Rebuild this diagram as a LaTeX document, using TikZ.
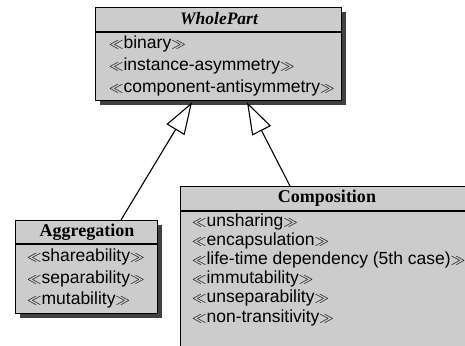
\documentclass[tikz,border=0pt]{standalone}
\usepackage{fontspec}
\setmainfont{Liberation Serif}
\setsansfont{Liberation Sans}
\usetikzlibrary{arrows.meta,shadows,calc}
\definecolor{boxgray}{RGB}{204,204,204}
\definecolor{shadowgray}{RGB}{64,64,64}
\newcommand{\stl}{{\fontsize{15}{15}\selectfont$\ll$}}
\newcommand{\str}{{\fontsize{15}{15}\selectfont$\gg$}}
\tikzset{
  classbox/.style={draw=black, line width=1.3pt, fill=boxgray, rectangle, inner sep=0pt, anchor=north west,
    drop shadow={shadow xshift=4pt, shadow yshift=-4pt, fill=shadowgray, opacity=1}},
  sepline/.style={line width=2pt, black},
  rowtext/.style={anchor=base west, inner sep=0pt, font=\sffamily\fontsize{17.5}{20}\selectfont},
  titletext/.style={anchor=base, inner sep=0pt, font=\rmfamily\bfseries\fontsize{18}{20}\selectfont},
  inherit/.style={line width=1.1pt, -{Triangle[length=32pt, width=21pt, fill=white, line width=1.1pt]}}
}
\begin{document}
\begin{tikzpicture}[x=1pt, y=-1pt]
\useasboundingbox (0,0) rectangle (465,345);
\clip (0,0) rectangle (465,345);
% WholePart
\node[classbox, minimum width=246pt, minimum height=93pt] (wp) at (95,7) {};
\draw[sepline] (95,32) -- (341,32);
\node[titletext, font=\rmfamily\bfseries\itshape\fontsize{17.5}{20}\selectfont] (wpt) at (219,25) {WholePart};
\node[rowtext] (wp1) at (109,48.5) {\stl binary\str};
\node[rowtext] (wp2) at (109,70.5) {\stl instance-asymmetry\str};
\node[rowtext] (wp3) at (109,92.5) {\stl component-antisymmetry\str};
% Aggregation
\node[classbox, minimum width=142pt, minimum height=93pt] (agg) at (15,220) {};
\draw[sepline] (15,244) -- (157,244);
\node[titletext] (aggt) at (87,236.5) {Aggregation};
\node[rowtext] (ag1) at (27,261) {\stl shareability\str};
\node[rowtext] (ag2) at (27,283) {\stl separability\str};
\node[rowtext] (ag3) at (27,304) {\stl mutability\str};
% Composition
\node[classbox, minimum width=300pt, minimum height=180pt] (comp) at (180,186) {};
\draw[sepline] (180,211) -- (480,211);
\node[titletext] (compt) at (327,202) {Composition};
\node[rowtext] (c1) at (192,226.5) {\stl unsharing\str};
\node[rowtext] (c2) at (192,245.5) {\stl encapsulation\str};
\node[rowtext] (c3) at (192,264.5) {\stl life-time dependency (5th case)\str};
\node[rowtext] (c4) at (192,283.5) {\stl immutability\str};
\node[rowtext] (c5) at (192,302.5) {\stl unseparability\str};
\node[rowtext] (c6) at (192,322) {\stl non-transitivity\str};
% Generalizations
\draw[inherit] ($(agg.north west)+(106,0)$) -- ($(wp.south west)+(97,1)$);
\draw[inherit] ($(comp.north west)+(110,0)$) -- ($(wp.south west)+(152,1)$);
\end{tikzpicture}
\end{document}
